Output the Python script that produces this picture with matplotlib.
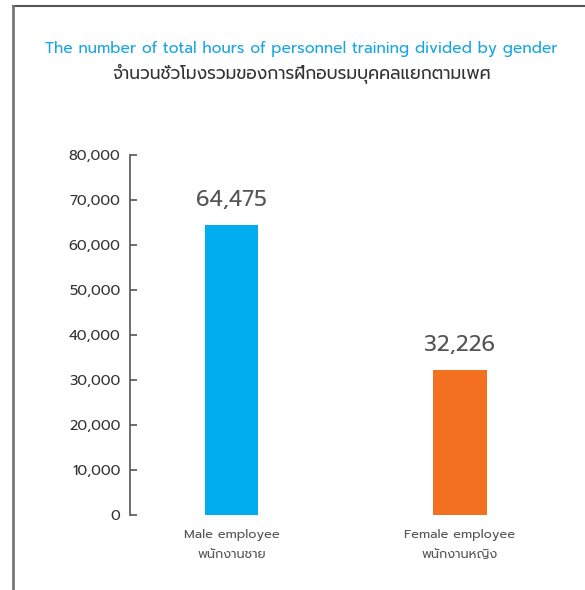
import matplotlib
matplotlib.use("Agg")
import matplotlib.pyplot as plt
from matplotlib.lines import Line2D

plt.rcParams['font.family'] = ['Prompt', 'DejaVu Sans']

# data
categories = ["Male employee\nพนักงานชาย", "Female employee\nพนักงานหญิง"]
hours = [64475, 32226]
bar_colors = ["#00AEEF", "#F37021"]
yticks = [0, 10000, 20000, 30000, 40000, 50000, 60000, 70000, 80000]
title_en = "The number of total hours of personnel training divided by gender"
title_th = "จำนวนชั่วโมงรวมของการฝึกอบรมบุคคลแยกตามเพศ"

text_gray = "#555555"

fig = plt.figure(figsize=(5.85, 5.9), dpi=100)
ax = fig.add_axes([130 / 585, 75 / 590, 430 / 585, 360 / 590])

x = list(range(len(categories)))
ax.bar(x, hours, width=0.232, color=bar_colors)
for xi, v in zip(x, hours):
    ax.text(xi, v + 3000, f"{v:,}", ha="center", va="bottom", fontsize=16, color=text_gray)

ax.set_xlim(-0.444, 1.4376)
ax.set_ylim(0, 80000)
ax.set_yticks(yticks)
ax.set_yticklabels([f"{t:,}" for t in yticks], fontsize=10.5, color="#333333")
ax.tick_params(axis="y", direction="in", length=5, width=1.2, color=text_gray, pad=7)
ax.set_xticks(x)
ax.set_xticklabels(categories, fontsize=9.2, color=text_gray, linespacing=1.95)
ax.tick_params(axis="x", length=0, pad=10)
for s in ["top", "right", "bottom"]:
    ax.spines[s].set_visible(False)
ax.spines["left"].set_color(text_gray)
ax.spines["left"].set_linewidth(1.2)

fig.text(301 / 585, 1 - 49 / 590, title_en, ha="center", va="center", fontsize=11.1, color="#1BA6E1")
fig.text(302 / 585, 1 - 73 / 590, title_th, ha="center", va="center", fontsize=12.3, color="#333333")

# frame lines
fig.add_artist(Line2D([12.5 / 585, 1], [1 - 6 / 590, 1 - 6 / 590], color="#555555", lw=1.5))
fig.add_artist(Line2D([12.5 / 585, 12.5 / 585], [0, 1 - 6 / 590], color="#777777", lw=2))

fig.savefig("out.png")
